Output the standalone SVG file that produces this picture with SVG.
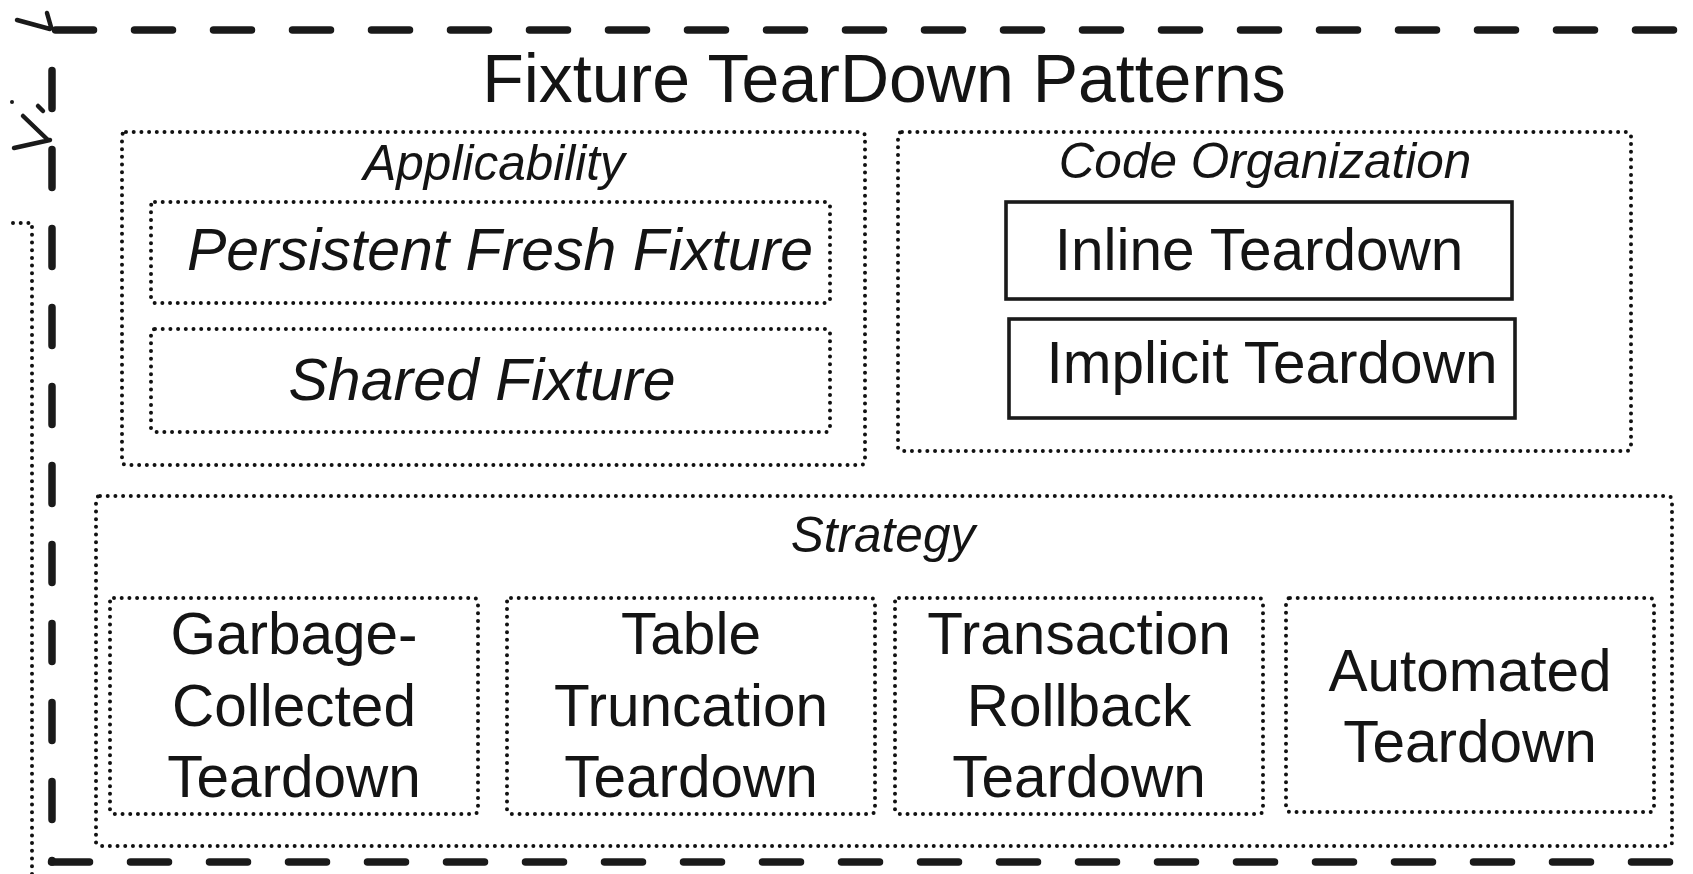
<svg xmlns="http://www.w3.org/2000/svg" width="1693" height="874" viewBox="0 0 1693 874">
  <style>
    .dot { fill: none; stroke: #111; stroke-width: 4; stroke-linecap: round; stroke-dasharray: 0 7.7; }
    .solid { fill: none; stroke: #1a1a1a; stroke-width: 3.6; }
    .dash { fill: none; stroke: #1a1a1a; stroke-width: 7.5; stroke-linecap: round; stroke-dasharray: 38 41; }
    .stub { fill: none; stroke: #1a1a1a; stroke-width: 4.5; stroke-linecap: round; }
    text { font-family: "Liberation Sans", Arial, sans-serif; fill: #141414; text-anchor: middle; }
    .title { font-size: 68px; }
    .head { font-size: 49.5px; font-style: italic; }
    .ital { font-size: 59px; font-style: italic; }
    .label { font-size: 58.5px; }
  </style>

  <rect width="1693" height="874" fill="#ffffff"/>

  <!-- outer dashed frame -->
  <g id="frame">
    <line class="dash" x1="55.5" y1="30" x2="1693" y2="30"/>
    <line class="dash" x1="52" y1="70.5" x2="52" y2="862"/>
    <line class="dash" x1="51.5" y1="862" x2="1693" y2="862"/>
    <text class="title" x="884" y="102">Fixture TearDown Patterns</text>
  </g>

  <!-- partial arrow heads and a dotted lead entering from the left -->
  <g id="connectors">
    <path class="stub" d="M17 20 L50 29 M47 13 L51 27"/>
    <path class="stub" d="M23 116 L48 140 M14 148 L50 140 M38 106 L43 111"/>
    <circle cx="12" cy="102" r="2" fill="#1a1a1a"/>
    <path class="dot" d="M13 223 L32 223 L32 874"/>
  </g>

  <!-- Applicability group -->
  <g id="applicability">
    <rect class="dot" x="122" y="132" width="743" height="333" rx="4"/>
    <text class="head" x="494" y="180">Applicability</text>
  </g>
  <g id="persistent-fresh-fixture">
    <rect class="dot" x="151" y="202" width="679" height="101" rx="4"/>
    <text class="ital" x="500" y="270">Persistent Fresh Fixture</text>
  </g>
  <g id="shared-fixture">
    <rect class="dot" x="151" y="329" width="679" height="103" rx="4"/>
    <text class="ital" x="482" y="400">Shared Fixture</text>
  </g>

  <!-- Code Organization group -->
  <g id="code-organization">
    <rect class="dot" x="898" y="132" width="733" height="319" rx="4"/>
    <text class="head" x="1265" y="178">Code Organization</text>
  </g>
  <g id="inline-teardown">
    <rect class="solid" x="1006" y="202" width="506" height="97"/>
    <text class="label" x="1259" y="270">Inline Teardown</text>
  </g>
  <g id="implicit-teardown">
    <rect class="solid" x="1009" y="319" width="506" height="99"/>
    <text class="label" x="1272" y="383">Implicit Teardown</text>
  </g>

  <!-- Strategy group -->
  <g id="strategy">
    <rect class="dot" x="96" y="496" width="1576" height="350" rx="4"/>
    <text class="head" x="883" y="552">Strategy</text>
  </g>
  <g id="garbage-collected-teardown">
    <rect class="dot" x="110" y="598" width="368" height="216" rx="4"/>
    <text class="label" x="294" y="654">Garbage-</text>
    <text class="label" x="294" y="726">Collected</text>
    <text class="label" x="294" y="797">Teardown</text>
  </g>
  <g id="table-truncation-teardown">
    <rect class="dot" x="507" y="598" width="368" height="216" rx="4"/>
    <text class="label" x="691" y="654">Table</text>
    <text class="label" x="691" y="726">Truncation</text>
    <text class="label" x="691" y="797">Teardown</text>
  </g>
  <g id="transaction-rollback-teardown">
    <rect class="dot" x="895" y="598" width="368" height="216" rx="4"/>
    <text class="label" x="1079" y="654">Transaction</text>
    <text class="label" x="1079" y="726">Rollback</text>
    <text class="label" x="1079" y="797">Teardown</text>
  </g>
  <g id="automated-teardown">
    <rect class="dot" x="1286" y="598" width="368" height="214" rx="4"/>
    <text class="label" x="1470" y="691">Automated</text>
    <text class="label" x="1470" y="762">Teardown</text>
  </g>
</svg>
